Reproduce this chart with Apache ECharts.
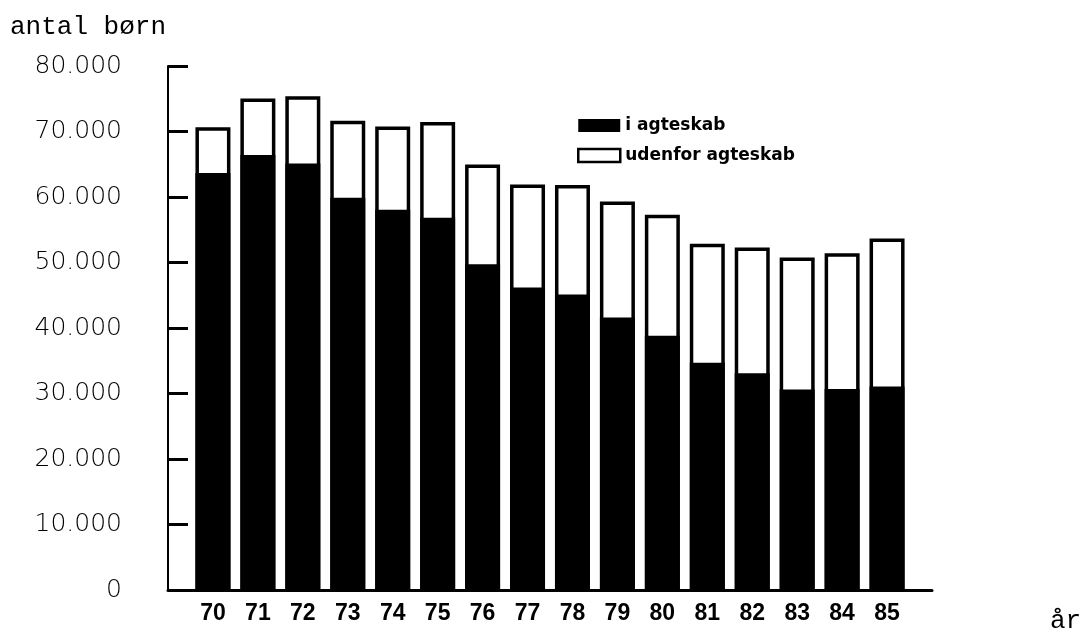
<!DOCTYPE html>
<html>
<head>
<meta charset="utf-8">
<script src="https://cdn.jsdelivr.net/npm/echarts@6/dist/echarts.min.js"></script>
<style>
  html, body { margin: 0; padding: 0; background: #fff; }
  #chart { width: 1086px; height: 633px; }
</style>
</head>
<body>
<div id="chart"></div>
<script>
// ---- data ----
const years = [70, 71, 72, 73, 74, 75, 76, 77, 78, 79, 80, 81, 82, 83, 84, 85];
const yearLabels = ['70', '71', '72', '73', '74', '75', '76', '77', '78', '79', '80', '81', '82', '83', '84', '85'];
// births within marriage (black part)
const iAegteskab = [63650, 66400, 65100, 59900, 58050, 56850, 49750, 46200, 45100, 41600, 38800, 34700, 33100, 30600, 30700, 31050];
// births outside marriage (white part, on top of the black part)
const udenforAegteskab = [7000, 8650, 10300, 11750, 12700, 14600, 15200, 15700, 16750, 17700, 18500, 18150, 19200, 20150, 20700, 22600];
const yTickLabels = ['0', '10.000', '20.000', '30.000', '40.000', '50.000', '60.000', '70.000', '80.000'];
const seriesNames = ['i agteskab', 'udenfor agteskab'];
const yAxisTitle = 'antal børn';
const xAxisTitle = 'år';

// bar top = within + outside marriage (the white part is stacked on the black part)
const totals = iAegteskab.map((v, i) => v + udenforAegteskab[i]);

const chart = echarts.init(document.getElementById('chart'));
const monoFont = "'Liberation Mono', 'DejaVu Sans Mono', monospace";

chart.setOption({
  animation: false,
  backgroundColor: '#ffffff',
  grid: { left: 168, right: 154, top: 66, bottom: 43, containLabel: false },
  legend: {
    orient: 'vertical',
    left: 577,
    top: 117,
    padding: 0,
    itemWidth: 42,
    itemHeight: 13,
    itemGap: 13,
    icon: 'rect',
    selectedMode: false,
    textStyle: { fontFamily: "'DejaVu Sans'", fontWeight: 'bold', fontSize: 17, color: '#000' },
    data: [
      { name: seriesNames[0], itemStyle: { color: '#000', borderColor: '#000', borderWidth: 0 } },
      { name: seriesNames[1], itemStyle: { color: '#fff', borderColor: '#000', borderWidth: 2.5 } }
    ]
  },
  xAxis: {
    type: 'value',
    min: 69,
    max: 86,
    interval: 1,
    splitLine: { show: false },
    axisTick: { show: false },
    axisLine: { show: true, onZero: false, lineStyle: { color: '#000', width: 3 } },
    axisLabel: {
      margin: 12,
      color: '#000',
      fontFamily: "'Liberation Sans Narrow', 'Liberation Sans', sans-serif",
      fontWeight: 'bold',
      fontSize: 23,
      formatter: function (v) {
        const i = years.indexOf(v);
        return i >= 0 ? yearLabels[i] : '';
      }
    }
  },
  yAxis: {
    type: 'value',
    min: 0,
    max: 80000,
    interval: 10000,
    splitLine: { show: false },
    axisLine: { show: true, lineStyle: { color: '#000', width: 2 } },
    axisTick: { show: true, inside: true, length: 20, lineStyle: { color: '#000', width: 3 } },
    axisLabel: {
      margin: 46,
      color: '#000',
      fontFamily: "'DejaVu Sans', sans-serif",
      fontWeight: 200,
      fontSize: 25,
      padding: [0, 0, 8, 0],
      formatter: function (v) { return yTickLabels[Math.round(v / 10000)]; }
    }
  },
  series: [
    {
      // white part: drawn from the base to the top of the stack
      name: seriesNames[1],
      type: 'bar',
      barWidth: 35,
      barGap: '-100%',
      z: 2,
      data: years.map((y, i) => [y, totals[i]]),
      itemStyle: { color: '#fff', borderColor: '#000', borderWidth: 3.5 }
    },
    {
      name: seriesNames[0],
      type: 'bar',
      barWidth: 35,
      barGap: '-100%',
      z: 3,
      data: years.map((y, i) => [y, iAegteskab[i]]),
      itemStyle: { color: '#000', borderColor: '#000', borderWidth: 3.5 }
    }
  ],
  graphic: [
    {
      type: 'text', left: 10, top: 14,
      style: { text: yAxisTitle, fill: '#000', font: "26px " + monoFont }
    },
    {
      type: 'text', left: 1050, top: 608,
      style: { text: xAxisTitle, fill: '#000', font: "26px " + monoFont }
    }
  ]
});
</script>
</body>
</html>
